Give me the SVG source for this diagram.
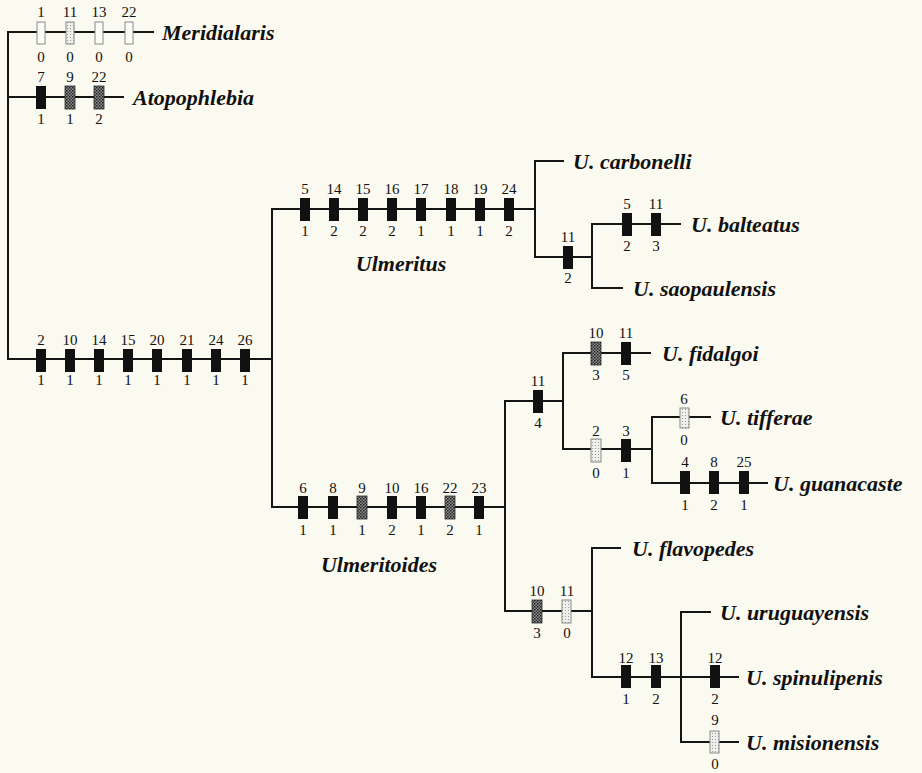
<svg xmlns="http://www.w3.org/2000/svg" width="922" height="773" viewBox="0 0 922 773">
<style>
.ln{stroke:#151515;stroke-width:2;fill:none;stroke-linecap:square}
.b{fill:#111}
.d{fill:url(#dk);stroke:#2a2a2a;stroke-width:0.8}
.l{fill:url(#lt);stroke:#8a8a8a;stroke-width:1}
.w{fill:#fdfdf8;stroke:#8a8a8a;stroke-width:1}
.n{font-family:"Liberation Serif",serif;font-size:15px;fill:#111;text-anchor:middle}
.t{font-family:"Liberation Serif",serif;font-size:22px;font-weight:bold;font-style:italic;fill:#111}
.c{text-anchor:middle}
</style>
<defs>
<pattern id="dk" width="3" height="3" patternUnits="userSpaceOnUse"><rect width="3" height="3" fill="#8f8f8f"/><rect width="1.5" height="1.5" fill="#1e1e1e"/><rect x="1.5" y="1.5" width="1.5" height="1.5" fill="#333"/></pattern>
<pattern id="lt" width="3" height="3" patternUnits="userSpaceOnUse"><rect width="3" height="3" fill="#efefec"/><rect x="1" y="1" width="1" height="1" fill="#9a9a9a"/></pattern>
</defs>
<rect width="922" height="773" fill="#fbfaf0"/>
<g id="connectors">
<path class="ln" d="M8 32V359M8 32H153M8 97H123M8 359H272"/>
<path class="ln" d="M272 209V507M272 209H535M272 507H505"/>
<path class="ln" d="M535 161V257M535 161H563M535 257H592M592 224V288M592 224H680M592 288H622"/>
<path class="ln" d="M505 401V611M505 401H563M563 353V449M563 353H650M563 449H652M652 417V483M652 417H710M652 483H767"/>
<path class="ln" d="M505 611H592M592 548V677M592 548H620M592 677H738M681 612V742M681 612H710M681 742H738"/>
</g>
<g id="meridialaris-chars">
<rect class="w" x="37" y="22" width="8" height="22"/><rect class="l" x="66" y="22" width="8" height="22"/><rect class="w" x="95" y="22" width="8" height="22"/><rect class="w" x="125" y="22" width="8" height="22"/>
<text class="n" x="41" y="17">1</text><text class="n" x="70" y="17">11</text><text class="n" x="99" y="17">13</text><text class="n" x="129" y="17">22</text>
<text class="n" x="41" y="62">0</text><text class="n" x="70" y="62">0</text><text class="n" x="99" y="62">0</text><text class="n" x="129" y="62">0</text>
</g>
<g id="atopophlebia-chars">
<rect class="b" x="36" y="86" width="10" height="23"/><rect class="d" x="65" y="86" width="10" height="23"/><rect class="d" x="94" y="86" width="10" height="23"/>
<text class="n" x="41" y="82">7</text><text class="n" x="70" y="82">9</text><text class="n" x="99" y="82">22</text>
<text class="n" x="41" y="124">1</text><text class="n" x="70" y="124">1</text><text class="n" x="99" y="124">2</text>
</g>
<g id="ulmeritus-group-chars">
<rect class="b" x="36" y="349" width="10" height="23"/><rect class="b" x="65" y="349" width="10" height="23"/><rect class="b" x="94" y="349" width="10" height="23"/><rect class="b" x="123" y="349" width="10" height="23"/><rect class="b" x="152" y="349" width="10" height="23"/><rect class="b" x="182" y="349" width="10" height="23"/><rect class="b" x="211" y="349" width="10" height="23"/><rect class="b" x="240" y="349" width="10" height="23"/>
<text class="n" x="41" y="345">2</text><text class="n" x="70" y="345">10</text><text class="n" x="99" y="345">14</text><text class="n" x="128" y="345">15</text><text class="n" x="157" y="345">20</text><text class="n" x="187" y="345">21</text><text class="n" x="216" y="345">24</text><text class="n" x="245" y="345">26</text>
<text class="n" x="41" y="385">1</text><text class="n" x="70" y="385">1</text><text class="n" x="99" y="385">1</text><text class="n" x="128" y="385">1</text><text class="n" x="157" y="385">1</text><text class="n" x="187" y="385">1</text><text class="n" x="216" y="385">1</text><text class="n" x="245" y="385">1</text>
</g>
<g id="ulmeritus-chars">
<rect class="b" x="300" y="198" width="10" height="23"/><rect class="b" x="329" y="198" width="10" height="23"/><rect class="b" x="358" y="198" width="10" height="23"/><rect class="b" x="387" y="198" width="10" height="23"/><rect class="b" x="416" y="198" width="10" height="23"/><rect class="b" x="446" y="198" width="10" height="23"/><rect class="b" x="475" y="198" width="10" height="23"/><rect class="b" x="504" y="198" width="10" height="23"/>
<text class="n" x="305" y="194">5</text><text class="n" x="334" y="194">14</text><text class="n" x="363" y="194">15</text><text class="n" x="392" y="194">16</text><text class="n" x="421" y="194">17</text><text class="n" x="451" y="194">18</text><text class="n" x="480" y="194">19</text><text class="n" x="509" y="194">24</text>
<text class="n" x="305" y="236">1</text><text class="n" x="334" y="236">2</text><text class="n" x="363" y="236">2</text><text class="n" x="392" y="236">2</text><text class="n" x="421" y="236">1</text><text class="n" x="451" y="236">1</text><text class="n" x="480" y="236">1</text><text class="n" x="509" y="236">2</text>
<text class="t c" x="401" y="271">Ulmeritus</text>
</g>
<g id="ulmeritus-inner-chars">
<rect class="b" x="563" y="246" width="10" height="23"/>
<text class="n" x="568" y="242">11</text><text class="n" x="568" y="283">2</text>
<rect class="b" x="622" y="213" width="10" height="23"/><rect class="b" x="651" y="213" width="10" height="23"/>
<text class="n" x="627" y="209">5</text><text class="n" x="656" y="209">11</text>
<text class="n" x="627" y="251">2</text><text class="n" x="656" y="251">3</text>
</g>
<g id="ulmeritoides-chars">
<rect class="b" x="298" y="496" width="10" height="23"/><rect class="b" x="328" y="496" width="10" height="23"/><rect class="d" x="357" y="496" width="10" height="23"/><rect class="b" x="387" y="496" width="10" height="23"/><rect class="b" x="416" y="496" width="10" height="23"/><rect class="d" x="445" y="496" width="10" height="23"/><rect class="b" x="474" y="496" width="10" height="23"/>
<text class="n" x="303" y="493">6</text><text class="n" x="333" y="493">8</text><text class="n" x="362" y="493">9</text><text class="n" x="392" y="493">10</text><text class="n" x="421" y="493">16</text><text class="n" x="450" y="493">22</text><text class="n" x="479" y="493">23</text>
<text class="n" x="303" y="535">1</text><text class="n" x="333" y="535">1</text><text class="n" x="362" y="535">1</text><text class="n" x="392" y="535">2</text><text class="n" x="421" y="535">1</text><text class="n" x="450" y="535">2</text><text class="n" x="479" y="535">1</text>
<text class="t c" x="379" y="572">Ulmeritoides</text>
</g>
<g id="ulmeritoides-upper-chars">
<rect class="b" x="533" y="390" width="10" height="23"/>
<text class="n" x="538" y="386">11</text><text class="n" x="538" y="428">4</text>
<rect class="d" x="591" y="342" width="10" height="23"/><rect class="b" x="621" y="342" width="10" height="23"/>
<text class="n" x="596" y="338">10</text><text class="n" x="626" y="338">11</text>
<text class="n" x="596" y="380">3</text><text class="n" x="626" y="380">5</text>
<rect class="l" x="591" y="439" width="10" height="23"/><rect class="b" x="621" y="439" width="10" height="23"/>
<text class="n" x="596" y="436">2</text><text class="n" x="626" y="436">3</text>
<text class="n" x="596" y="478">0</text><text class="n" x="626" y="478">1</text>
<rect class="l" x="680" y="408" width="9" height="20"/>
<text class="n" x="684" y="404">6</text><text class="n" x="684" y="445">0</text>
<rect class="b" x="680" y="471" width="10" height="23"/><rect class="b" x="709" y="471" width="10" height="23"/><rect class="b" x="739" y="471" width="10" height="23"/>
<text class="n" x="685" y="467">4</text><text class="n" x="714" y="467">8</text><text class="n" x="744" y="467">25</text>
<text class="n" x="685" y="510">1</text><text class="n" x="714" y="510">2</text><text class="n" x="744" y="510">1</text>
</g>
<g id="ulmeritoides-lower-chars">
<rect class="d" x="532" y="600" width="10" height="23"/><rect class="l" x="562" y="600" width="9" height="23"/>
<text class="n" x="537" y="596">10</text><text class="n" x="567" y="596">11</text>
<text class="n" x="537" y="638">3</text><text class="n" x="567" y="638">0</text>
<rect class="b" x="621" y="665" width="10" height="23"/><rect class="b" x="651" y="665" width="10" height="23"/><rect class="b" x="710" y="665" width="10" height="23"/>
<text class="n" x="626" y="663">12</text><text class="n" x="656" y="663">13</text><text class="n" x="715" y="663">12</text>
<text class="n" x="626" y="704">1</text><text class="n" x="656" y="704">2</text><text class="n" x="715" y="704">2</text>
<rect class="l" x="710" y="731" width="9" height="22"/>
<text class="n" x="715" y="725">9</text><text class="n" x="715" y="769">0</text>
</g>
<g id="meridialaris"><text class="t" x="162" y="40">Meridialaris</text></g>
<g id="atopophlebia"><text class="t" x="133" y="105">Atopophlebia</text></g>
<g id="carbonelli"><text class="t" x="573" y="169">U. carbonelli</text></g>
<g id="balteatus"><text class="t" x="691" y="232">U. balteatus</text></g>
<g id="saopaulensis"><text class="t" x="633" y="296">U. saopaulensis</text></g>
<g id="fidalgoi"><text class="t" x="662" y="361">U. fidalgoi</text></g>
<g id="tifferae"><text class="t" x="720" y="425">U. tifferae</text></g>
<g id="guanacaste"><text class="t" x="773" y="491">U. guanacaste</text></g>
<g id="flavopedes"><text class="t" x="632" y="556">U. flavopedes</text></g>
<g id="uruguayensis"><text class="t" x="720" y="620">U. uruguayensis</text></g>
<g id="spinulipenis"><text class="t" x="746" y="685">U. spinulipenis</text></g>
<g id="misionensis"><text class="t" x="746" y="750">U. misionensis</text></g>
</svg>
